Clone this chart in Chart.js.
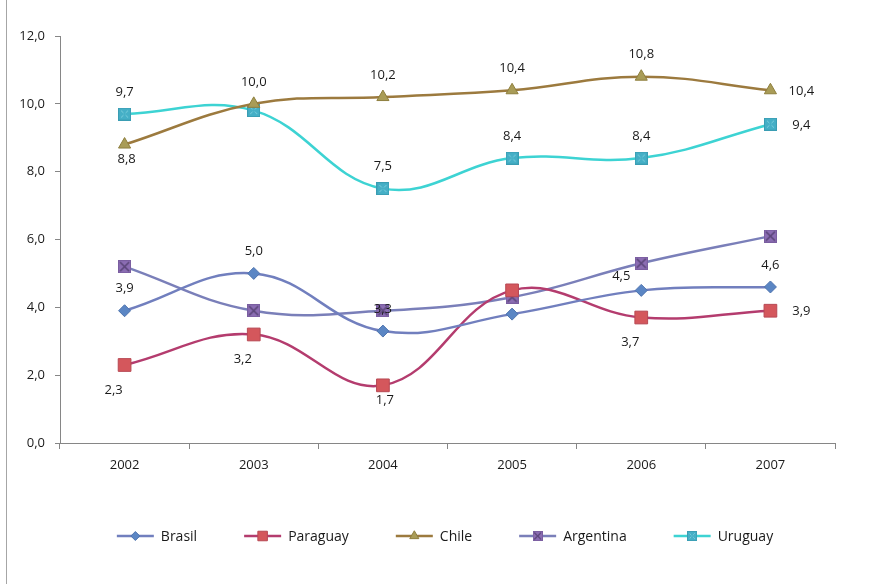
<!DOCTYPE html>
<html>
<head>
<meta charset="utf-8">
<script src="https://cdn.jsdelivr.net/npm/chart.js@4"></script>
<style>
  html, body { margin: 0; padding: 0; background: #fff; }
  #wrap { position: relative; width: 884px; height: 584px; overflow: hidden; }
  #frame { position: absolute; left: 6px; top: 0; width: 0; height: 584px; border-left: 1px solid #a6a6a6; }
  canvas { position: absolute; left: 0; top: 0; }
</style>
</head>
<body>
<div id="wrap">
  <div id="frame"></div>
  <canvas id="c" width="884" height="584"></canvas>
</div>
<script>
// Years on the category axis
const years = ['2002', '2003', '2004', '2005', '2006', '2007'];

// Series values
const brasil    = [3.9, 5.0, 3.3, 3.8, 4.5, 4.6];
const paraguay  = [2.3, 3.2, 1.7, 4.5, 3.7, 3.9];
const chile     = [8.8, 10.0, 10.2, 10.4, 10.8, 10.4];
const argentina = [5.2, 3.9, 3.9, 4.3, 5.3, 6.1];
const uruguay   = [9.7, 9.8, 7.5, 8.4, 8.4, 9.4];

// Y-axis ticks
const yTicks = [0, 2, 4, 6, 8, 10, 12];

// Where each value label sits relative to its point (null = no label)
const brasilLabelAt    = ['above', 'above', 'above', null, 'aboveLeft', 'above'];
const paraguayLabelAt  = ['belowLeft', 'belowLeft', 'below', null, 'belowLeft', 'right'];
const chileLabelAt     = ['below', 'above', 'above', 'above', 'above', 'right'];
const argentinaLabelAt = [null, null, null, null, null, null];
const uruguayLabelAt   = ['above', null, 'above', 'above', 'above', 'right'];

const FONT = "'Open Sans', 'Lato', sans-serif";
const fmt = v => v.toFixed(1).replace('.', ',');

// Square marker with an X across it
function crossSquare(fill, stroke, cross) {
  const s = 13, c = document.createElement('canvas');
  c.width = s; c.height = s;
  const g = c.getContext('2d');
  g.fillStyle = fill; g.fillRect(0, 0, s, s);
  g.strokeStyle = stroke; g.lineWidth = 1; g.strokeRect(0.5, 0.5, s - 1, s - 1);
  g.strokeStyle = cross; g.lineWidth = 1.6;
  g.beginPath(); g.moveTo(2, 2); g.lineTo(s - 2, s - 2); g.moveTo(s - 2, 2); g.lineTo(2, s - 2); g.stroke();
  return c;
}
// Square marker with a light mottled centre
function mottledSquare(fill, stroke, light) {
  const s = 13, c = document.createElement('canvas');
  c.width = s; c.height = s;
  const g = c.getContext('2d');
  g.fillStyle = fill; g.fillRect(0, 0, s, s);
  g.strokeStyle = light; g.lineWidth = 1;
  g.beginPath(); g.moveTo(3, 3); g.lineTo(5.5, 5.5); g.moveTo(10, 3); g.lineTo(7.5, 5.5);
  g.moveTo(3, 10); g.lineTo(5.5, 7.5); g.moveTo(10, 10); g.lineTo(7.5, 7.5); g.stroke();
  g.strokeStyle = stroke; g.strokeRect(0.5, 0.5, s - 1, s - 1);
  return c;
}
const argMarker = crossSquare('#8B6DB3', '#7A5EA0', '#5A4578');
const uruMarker = mottledSquare('#45AFC6', '#3A9DB3', '#7FD0DE');

const labelOffsets = {
  above:     [0, -22],
  below:     [2, 15],
  right:     [31, 1],
  aboveLeft: [-20, -14],
  belowLeft: [-11, 25]
};

const series = [
  { label: 'Brasil', data: brasil, places: brasilLabelAt, line: '#717FBE',
    pointStyle: 'rectRot', pointRadius: 6, bg: '#5B86C4', bd: '#4F74AE' },
  { label: 'Paraguay', data: paraguay, places: paraguayLabelAt, line: '#B43C6E',
    pointStyle: 'rect', pointRadius: 9, bg: '#D4575C', bd: '#B84954' },
  { label: 'Chile', data: chile, places: chileLabelAt, line: '#9C7A3E',
    pointStyle: 'triangle', pointRadius: 7, bg: '#A99C57', bd: '#8E7F3E' },
  { label: 'Argentina', data: argentina, places: argentinaLabelAt, line: '#7A7FB9',
    pointStyle: argMarker, pointRadius: 7, bg: '#8B6DB3', bd: '#7A5EA0' },
  { label: 'Uruguay', data: uruguay, places: uruguayLabelAt, line: '#3DD3D3',
    pointStyle: uruMarker, pointRadius: 7, bg: '#45AFC6', bd: '#3A9DB3' }
];

// Value labels next to points
const valueLabels = {
  id: 'valueLabels',
  afterDatasetsDraw(chart) {
    const ctx = chart.ctx;
    ctx.save();
    ctx.font = '13px ' + FONT;
    ctx.fillStyle = '#1a1a1a';
    ctx.textAlign = 'center';
    ctx.textBaseline = 'middle';
    chart.data.datasets.forEach((ds, i) => {
      const meta = chart.getDatasetMeta(i);
      meta.data.forEach((pt, j) => {
        const place = ds.places[j];
        if (!place) return;
        const [dx, dy] = labelOffsets[place];
        ctx.fillText(fmt(ds.data[j]), pt.x + dx, pt.y + dy);
      });
    });
    ctx.restore();
  }
};

// Legend: short line with the marker in its middle, then the name
const lineLegend = {
  id: 'lineLegend',
  afterDraw(chart) {
    const ctx = chart.ctx;
    ctx.save();
    ctx.font = '14px ' + FONT;
    ctx.textBaseline = 'middle';
    const lineLen = 37, gap = 7, spacing = 47, y = 536;
    const items = chart.data.datasets.map(ds => ({ ds, w: lineLen + gap + ctx.measureText(ds.label).width }));
    const total = items.reduce((a, it) => a + it.w, 0) + spacing * (items.length - 1);
    let x = 445 - total / 2;
    items.forEach(({ ds }, i) => {
      ctx.strokeStyle = ds.borderColor;
      ctx.lineWidth = 2.5;
      ctx.beginPath(); ctx.moveTo(x, y); ctx.lineTo(x + lineLen, y); ctx.stroke();
      const style = ds.pointStyle;
      const cx = x + lineLen / 2;
      if (typeof style === 'string') {
        ctx.fillStyle = ds.pointBackgroundColor;
        ctx.strokeStyle = ds.pointBorderColor;
        ctx.lineWidth = 1;
        Chart.helpers.drawPoint(ctx, { pointStyle: style, radius: ds.pointRadius * 0.75, rotation: 0, borderWidth: 1 }, cx, y);
      } else {
        ctx.drawImage(style, cx - 5, y - 5, 10, 10);
      }
      ctx.fillStyle = '#1a1a1a';
      ctx.textAlign = 'left';
      ctx.fillText(ds.label, x + lineLen + gap, y + 1);
      x += items[i].w + spacing;
    });
    ctx.restore();
  }
};

new Chart(document.getElementById('c'), {
  type: 'line',
  data: {
    labels: years,
    datasets: series.map(s => ({
      label: s.label,
      data: s.data,
      places: s.places,
      borderColor: s.line,
      borderWidth: 2.5,
      tension: 0.4,
      fill: false,
      pointStyle: s.pointStyle,
      pointRadius: s.pointRadius,
      pointHoverRadius: s.pointRadius,
      pointBackgroundColor: s.bg,
      pointBorderColor: s.bd,
      pointBorderWidth: 1
    }))
  },
  options: {
    responsive: false,
    animation: false,
    layout: { padding: { top: 36, right: 49, bottom: 101, left: 0 } },
    plugins: { legend: { display: false }, tooltip: { enabled: false } },
    scales: {
      x: {
        offset: true,
        grid: { offset: true, drawOnChartArea: false, drawTicks: true, tickLength: 6, color: '#868686' },
        border: { color: '#868686', width: 1 },
        ticks: { color: '#1a1a1a', font: { family: FONT, size: 13 }, padding: 8, maxRotation: 0 },
        afterFit(scale) { scale.height = 40; }
      },
      y: {
        min: 0, max: 12,
        afterBuildTicks(scale) { scale.ticks = yTicks.map(v => ({ value: v })); },
        grid: { drawOnChartArea: false, drawTicks: true, tickLength: 5, color: '#868686' },
        border: { color: '#868686', width: 1 },
        ticks: { color: '#1a1a1a', font: { family: FONT, size: 13 }, padding: 10, callback: v => fmt(v) },
        afterFit(scale) { scale.width = 60; }
      }
    }
  },
  plugins: [valueLabels, lineLegend]
});
</script>
</body>
</html>
